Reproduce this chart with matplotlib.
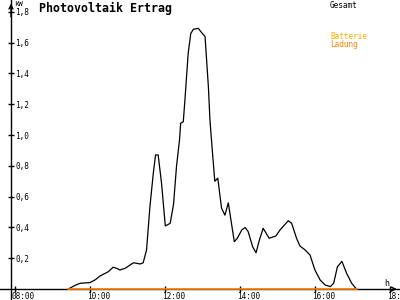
import matplotlib
matplotlib.use("Agg")
import matplotlib.pyplot as plt
from matplotlib.transforms import ScaledTranslation

# Gesamt (kW) over the day, time in decimal hours
hours = [9.41, 9.60, 9.73, 9.99, 10.13, 10.26, 10.48, 10.61, 10.70, 10.79,
         10.93, 11.15, 11.33, 11.41, 11.50, 11.59, 11.68, 11.74, 11.81, 11.90,
         12.00, 12.13, 12.22, 12.30, 12.38, 12.41, 12.48, 12.53, 12.61, 12.68,
         12.75, 12.88, 12.97, 13.06, 13.15, 13.19, 13.27, 13.32, 13.36, 13.40,
         13.50, 13.59, 13.68, 13.84, 13.92, 14.04, 14.13, 14.21, 14.33, 14.42,
         14.51, 14.61, 14.77, 14.95, 15.06, 15.28, 15.37, 15.50, 15.59, 15.73,
         15.86, 15.99, 16.13, 16.26, 16.40, 16.49, 16.59, 16.71, 16.84, 16.97,
         17.10]
gesamt = [0.0, 0.025, 0.038, 0.042, 0.06, 0.085, 0.113, 0.142, 0.135, 0.124,
          0.135, 0.171, 0.163, 0.171, 0.254, 0.535, 0.752, 0.871, 0.871, 0.687,
          0.41, 0.427, 0.55, 0.80, 0.97, 1.077, 1.087, 1.25, 1.53, 1.66,
          1.687, 1.693, 1.665, 1.64, 1.31, 1.10, 0.85, 0.70, 0.71, 0.72,
          0.525, 0.48, 0.56, 0.308, 0.33, 0.384, 0.40, 0.373, 0.275, 0.236,
          0.319, 0.395, 0.33, 0.345, 0.384, 0.444, 0.427, 0.33, 0.28, 0.254,
          0.221, 0.124, 0.059, 0.027, 0.016, 0.038, 0.145, 0.18, 0.10, 0.038,
          0.0]
# Batterie Ladung stays at zero the whole day
ladung = [0.0] * len(hours)

ytick_vals = [0.2, 0.4, 0.6, 0.8, 1.0, 1.2, 1.4, 1.6, 1.8]
ytick_labels = ["0,2", "0,4", "0,6", "0,8", "1,0", "1,2", "1,4", "1,6", "1,8"]
xtick_vals = [8, 10, 12, 14, 16, 18]
xtick_labels = ["08:00", "10:00", "12:00", "14:00", "16:00", "18:00"]

mono = "DejaVu Sans Mono"
orange = "#ff8000"
yellow = "#ffac00"

fig = plt.figure(figsize=(4, 3), dpi=100)
ax = fig.add_axes([0, 0, 1, 1])
ax.set_xlim(7.592, 18.259)
ax.set_ylim(-0.0708, 1.877)
x_axis_pos = 7.885

ax.plot(hours, gesamt, color="black", lw=0.9)
ax.plot(hours, ladung, color=orange, lw=1.2, zorder=5)

for s in ["top", "right"]:
    ax.spines[s].set_visible(False)
ax.spines["left"].set_position(("data", x_axis_pos))
ax.spines["bottom"].set_position(("data", 0))
ax.spines["left"].set_linewidth(1)
ax.spines["bottom"].set_linewidth(1)

ax.set_yticks(ytick_vals)
ax.set_yticklabels(ytick_labels, family=mono, fontsize=5.6, ha="left")
ax.tick_params(axis="y", direction="inout", length=4.5, width=1, pad=-5.3)
ax.set_xticks(xtick_vals)
ax.set_xticklabels([])
ax.tick_params(axis="x", direction="inout", length=4.5, width=1)

# x labels sit just right of their ticks, under the zero line
shift = ScaledTranslation(-0.036, -0.095, fig.dpi_scale_trans)
for xv, lab in zip(xtick_vals, xtick_labels):
    ax.text(xv, 0, lab, transform=ax.transData + shift,
            ha="left", va="baseline", family=mono, fontsize=5.6)

# axis arrows
ax.annotate("", xy=(x_axis_pos, 1.872), xytext=(x_axis_pos, 1.75),
            arrowprops=dict(arrowstyle="->", lw=1, color="black", mutation_scale=7))
ax.annotate("", xy=(18.25, 0), xytext=(18.0, 0),
            arrowprops=dict(arrowstyle="->", lw=1, color="black", mutation_scale=7))

fig.text(14 / 400, 1 - 1 / 300, "kW", ha="left", va="top", family=mono, fontsize=5.2)
fig.text(384 / 400, 1 - 279 / 300, "h", ha="left", va="top", family=mono, fontsize=6)
fig.text(39 / 400, 1 - 2 / 300, "Photovoltaik Ertrag", ha="left", va="top",
         family=mono, fontweight="bold", fontsize=8.4)
fig.text(330 / 400, 1 - 1 / 300, "Gesamt", ha="left", va="top", family=mono, fontsize=5.6)
fig.text(330 / 400, 1 - 32 / 300, "Batterie", ha="left", va="top", family=mono,
         fontsize=5.6, color=yellow)
fig.text(330 / 400, 1 - 40 / 300, "Ladung", ha="left", va="top", family=mono,
         fontsize=5.6, color=orange)

fig.savefig("out.png", dpi=100)
